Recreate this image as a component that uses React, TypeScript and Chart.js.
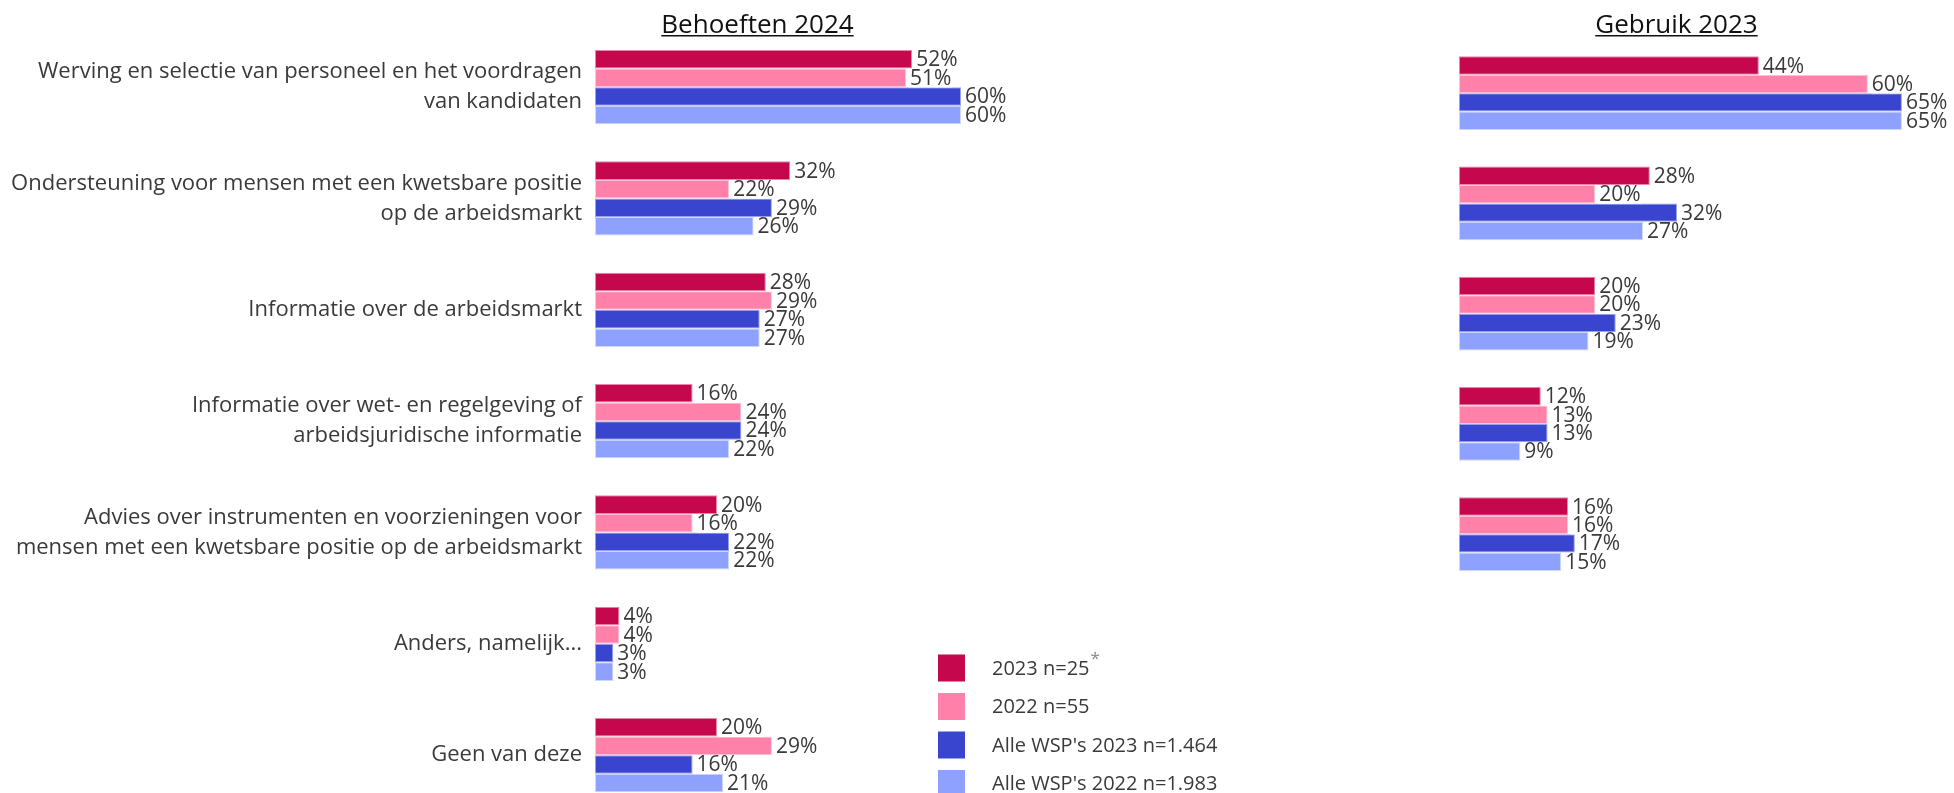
import React, { useEffect, useRef } from "react";
import { Chart, registerables } from "chart.js";
Chart.register(...registerables);

const categories: (string | string[])[] = [
  ["Werving en selectie van personeel en het voordragen", "van kandidaten"],
  ["Ondersteuning voor mensen met een kwetsbare positie", "op de arbeidsmarkt"],
  "Informatie over de arbeidsmarkt",
  ["Informatie over wet- en regelgeving of", "arbeidsjuridische informatie"],
  ["Advies over instrumenten en voorzieningen voor", "mensen met een kwetsbare positie op de arbeidsmarkt"],
  "Anders, namelijk...",
  "Geen van deze",
];
const categoriesUse = categories.slice(0, 5);

const seriesNames = ["2023 n=25", "2022 n=55", "Alle WSP's 2023 n=1.464", "Alle WSP's 2022 n=1.983"];
const seriesColors = ["#C5074E", "#FF80A8", "#3A45CF", "#8FA1FF"];
const seriesBorders = ["rgba(230,120,160,0.9)", "rgba(255,190,210,0.9)", "rgba(140,150,235,0.9)", "rgba(200,210,255,0.9)"];

const titleNeeds = "Behoeften 2024";
const titleUse = "Gebruik 2023";

const needs2023 = [52, 32, 28, 16, 20, 4, 20];
const needs2022 = [51, 22, 29, 24, 16, 4, 29];
const needsAll2023 = [60, 29, 27, 24, 22, 3, 16];
const needsAll2022 = [60, 26, 27, 22, 22, 3, 21];

const use2023 = [44, 28, 20, 12, 16];
const use2022 = [60, 20, 20, 13, 16];
const useAll2023 = [65, 32, 23, 13, 17];
const useAll2022 = [65, 27, 19, 9, 15];

const FONT = "'Open Sans'";
const TEXT = "#3a3a3a";

const labelPlugin = {
  id: "barLabels",
  afterDatasetsDraw(chart: any) {
    const ctx = chart.ctx;
    ctx.save();
    ctx.font = `21px ${FONT}`;
    ctx.textBaseline = "middle";
    ctx.textAlign = "left";
    chart.data.datasets.forEach((ds: any, i: number) => {
      const meta = chart.getDatasetMeta(i);
      meta.data.forEach((el: any, j: number) => {
        const text = `${ds.data[j]}%`;
        const x = el.x + 4;
        const y = el.y + 1;
        const w = ctx.measureText(text).width;
        ctx.fillStyle = "#ffffff";
        ctx.fillRect(x - 1, y - 8.5, w + 2, 17);
        ctx.fillStyle = TEXT;
        ctx.fillText(text, x, y);
      });
    });
    ctx.restore();
  },
};

const titlePlugin = {
  id: "panelTitle",
  afterDraw(chart: any, _args: any, opts: any) {
    if (!opts || !opts.text) return;
    const ctx = chart.ctx;
    ctx.save();
    ctx.font = `26px ${FONT}`;
    ctx.fillStyle = "#111";
    ctx.textAlign = "center";
    ctx.textBaseline = "alphabetic";
    ctx.fillText(opts.text, opts.x, 33);
    const w = ctx.measureText(opts.text).width;
    ctx.strokeStyle = "#111";
    ctx.lineWidth = 1.4;
    ctx.beginPath();
    ctx.moveTo(opts.x - w / 2, 35.8);
    ctx.lineTo(opts.x + w / 2, 35.8);
    ctx.stroke();
    ctx.restore();
  },
};

const legendPlugin = {
  id: "customLegend",
  afterDraw(chart: any, _args: any, opts: any) {
    if (!opts || !opts.show) return;
    const ctx = chart.ctx;
    ctx.save();
    const ys = [668, 706.5, 745, 783.5];
    seriesNames.forEach((name, i) => {
      const cy = ys[i];
      ctx.fillStyle = seriesColors[i];
      ctx.fillRect(938, cy - 13.5, 27, 27);
      ctx.font = `20px ${FONT}`;
      ctx.fillStyle = TEXT;
      ctx.textAlign = "left";
      ctx.textBaseline = "middle";
      ctx.fillText(name, 992, cy + 1);
      if (i === 0) {
        const w = ctx.measureText(name).width;
        ctx.font = `17px ${FONT}`;
        ctx.fillStyle = "#8a8a8a";
        ctx.fillText("*", 992 + w + 1, cy - 9);
      }
    });
    ctx.restore();
  },
};

function makeDatasets(arrs: number[][]) {
  return arrs.map((data, i) => ({
    label: seriesNames[i],
    data,
    backgroundColor: seriesColors[i],
    borderColor: seriesBorders[i],
    borderWidth: 1,
    borderSkipped: false,
    barPercentage: 1,
    categoryPercentage: 0.667,
  }));
}

export default function App() {
  const leftRef = useRef<HTMLCanvasElement>(null);
  const rightRef = useRef<HTMLCanvasElement>(null);

  useEffect(() => {
    let cancelled = false;
    const charts: Chart[] = [];
    const make = () => {
      if (cancelled || !leftRef.current || !rightRef.current) return;
      charts.push(
        new Chart(leftRef.current, {
          type: "bar",
          data: {
            labels: categories as any,
            datasets: makeDatasets([needs2023, needs2022, needsAll2023, needsAll2022]) as any,
          },
          options: {
            indexAxis: "y",
            responsive: false,
            animation: false,
            layout: { padding: { left: 0, right: 95, top: 31.5, bottom: 19.2 } },
            scales: {
              x: { type: "linear", min: 0, max: 100, display: false },
              y: {
                type: "category",
                position: "left",
                grid: { display: false, drawTicks: false },
                border: { display: false },
                ticks: {
                  color: TEXT,
                  autoSkip: false,
                  padding: 13,
                  font: { family: FONT, size: 22, lineHeight: "30px" as any },
                },
                afterFit: (s: any) => {
                  s.width = 595;
                  s.paddingTop = 0;
                  s.paddingBottom = 0;
                },
              },
            },
            plugins: {
              legend: { display: false },
              tooltip: { enabled: false },
              panelTitle: { text: titleNeeds, x: 757.5 },
              customLegend: { show: true },
            } as any,
          },
          plugins: [labelPlugin, titlePlugin, legendPlugin],
        })
      );
      charts.push(
        new Chart(rightRef.current, {
          type: "bar",
          data: {
            labels: categoriesUse as any,
            datasets: makeDatasets([use2023, use2022, useAll2023, useAll2022]) as any,
          },
          options: {
            indexAxis: "y",
            responsive: false,
            animation: false,
            layout: { padding: { left: 159, right: 18, top: 38, bottom: 10.75 } },
            scales: {
              x: { type: "linear", min: 0, max: 70, display: false },
              y: { type: "category", display: false },
            },
            plugins: {
              legend: { display: false },
              tooltip: { enabled: false },
              panelTitle: { text: titleUse, x: 376.5 },
            } as any,
          },
          plugins: [labelPlugin, titlePlugin],
        })
      );
    };
    Promise.all([
      document.fonts.load(`21px ${FONT}`),
      document.fonts.load(`26px ${FONT}`),
    ]).then(make, make);
    return () => {
      cancelled = true;
      charts.forEach((c) => c.destroy());
    };
  }, []);

  return (
    <div
      style={{
        position: "fixed",
        left: 0,
        top: 0,
        width: 1954,
        height: 793,
        overflow: "hidden",
        background: "#fff",
      }}
    >
      <canvas ref={leftRef} width={1300} height={830} style={{ position: "absolute", left: 0, top: 0 }} />
      <canvas ref={rightRef} width={654} height={600} style={{ position: "absolute", left: 1300, top: 0 }} />
    </div>
  );
}
